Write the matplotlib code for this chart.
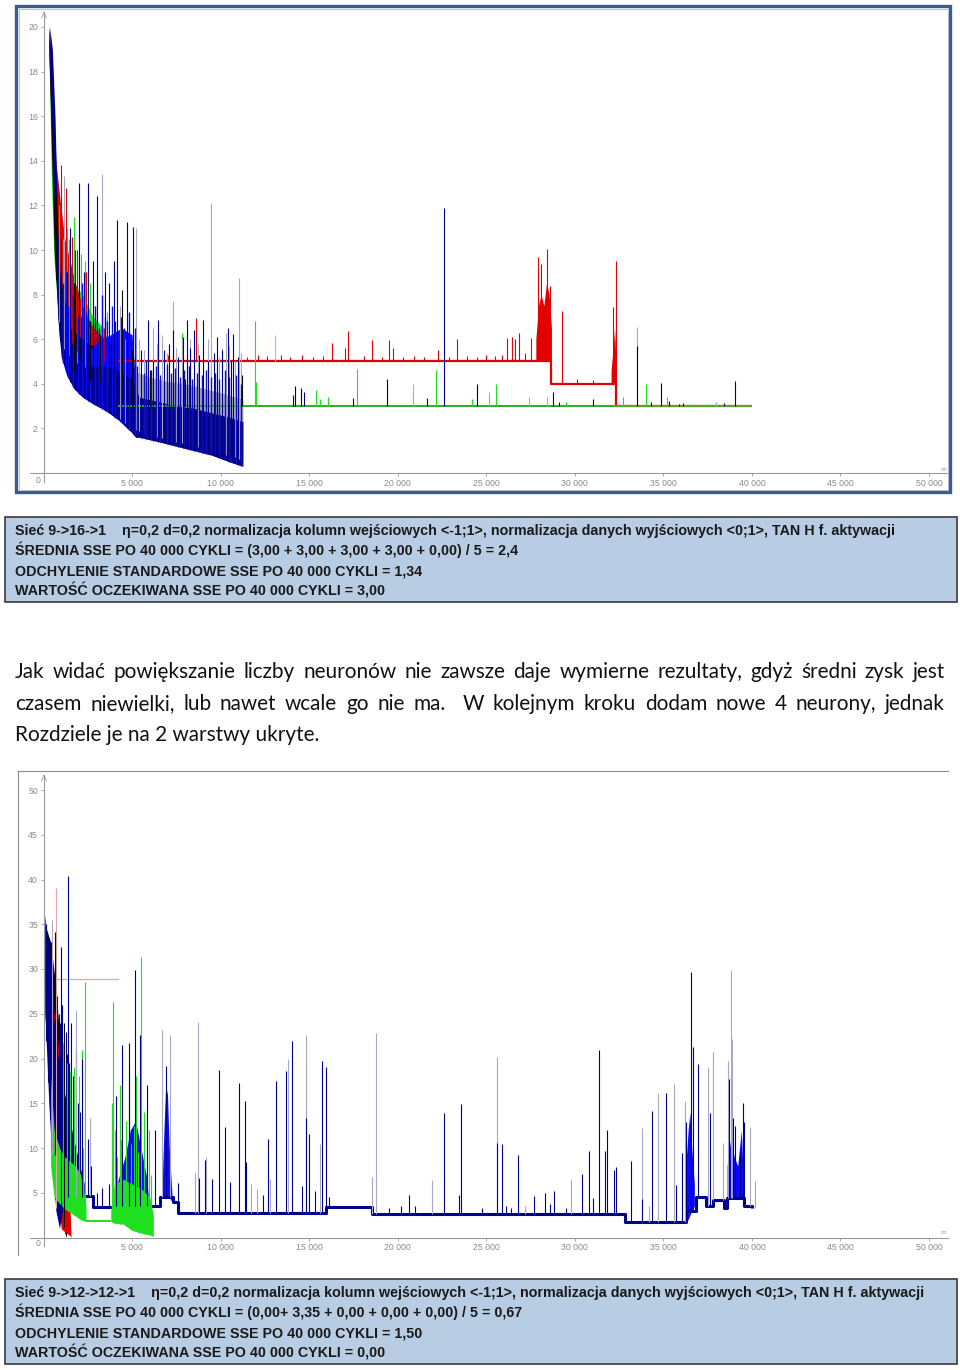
import matplotlib
matplotlib.use("Agg")
import matplotlib.pyplot as plt
from matplotlib.patches import Rectangle
import numpy as np

W, H = 960, 1370
NARROW = ["Liberation Sans Narrow", "Liberation Sans", "DejaVu Sans"]
BODY = ["Lato", "Open Sans", "DejaVu Sans"]
plt.rcParams["font.family"] = NARROW

RED, GREEN, NAVY, BLUE = "#e20000", "#1fe01f", "#00008e", "#0a0aff"
BLACK, GRAY, PINK = "#0a0a0a", "#a8a8c2", "#e6a6a6"
AXIS_GRAY = "#9a9a9a"

x_ticks = [5000, 10000, 15000, 20000, 25000, 30000, 35000, 40000, 45000, 50000]
c1_y_ticks = [2, 4, 6, 8, 10, 12, 14, 16, 18, 20]
c2_y_ticks = [5, 10, 15, 20, 25, 30, 35, 40, 45, 50]

# ---------------- chart 1: 9->16->1 (SSE vs cycles) ----------------
c1_red_band_x = [300, 500, 700, 900, 1200, 1500, 1800, 2200, 2800, 3500, 4200]
c1_red_band_hi = [20.0, 18.0, 14.0, 12.5, 10.5, 9.5, 8.5, 7.5, 6.5, 6.0, 5.3]
c1_red_band_lo = [19.0, 14.0, 10.0, 8.0, 6.5, 6.0, 5.5, 5.3, 5.1, 5.0, 5.0]
c1_red_level_x = [4200, 28680, 32320, 40000]
c1_red_level_y = [5.0, 4.0, 3.0, 3.0]
c1_red_burst_x = [27800, 27950, 28100, 28250, 28400, 28550, 28680]
c1_red_burst_hi = [6.0, 7.5, 8.0, 7.5, 8.5, 8.0, 6.5]
c1_red_burst_lo = [5.0, 5.0, 5.0, 5.0, 5.0, 5.0, 5.0]
c1_red_burst2_x = [32050, 32150, 32250, 32320]
c1_red_burst2_hi = [4.6, 5.5, 6.5, 5.0]
c1_red_burst2_lo = [4.0, 4.0, 4.0, 3.0]
c1_red_spike_x = [6450, 7030, 8610, 11500, 12100, 12600, 13400, 13900, 14600, 15200,
                  15800, 16270, 17030, 17220, 18100, 18560, 19100, 19490, 19750, 20300,
                  20900, 21500, 22300, 22900, 23370, 23900, 24500, 24990, 25500, 25900,
                  26170, 26440, 26630, 26850, 27200, 27540, 27900, 28090, 28420, 28590,
                  29250, 30100, 31000, 32150, 32300, 1000, 1250, 1600, 1900, 2400,
                  2900, 3400]
c1_red_spike_y = [6.26, 5.3, 6.94, 5.2, 5.3, 5.25, 5.3, 5.2, 5.3, 5.2,
                  5.25, 5.84, 5.6, 6.37, 5.25, 5.96, 5.2, 5.95, 5.6, 5.2,
                  5.25, 5.2, 5.5, 5.2, 6.0, 5.25, 5.2, 5.3, 5.25, 5.3,
                  6.05, 6.1, 6.0, 6.3, 5.4, 6.05, 9.67, 9.37, 10.03, 8.4,
                  7.28, 4.2, 4.15, 7.46, 9.5, 13.8, 12.8, 10.6, 10.0, 9.0,
                  7.5, 6.5]
c1_pink_spike_x = [13070]
c1_pink_spike_y = [6.2]

c1_green_band_x = [300, 450, 600, 800, 1000, 1300, 1700, 2200, 2800, 3400, 3900, 4130]
c1_green_band_hi = [20.2, 17.0, 13.0, 10.5, 9.5, 9.5, 8.5, 8.0, 7.0, 6.5, 5.0, 3.2]
c1_green_band_lo = [19.5, 13.0, 9.5, 7.5, 6.0, 5.5, 5.0, 4.8, 4.6, 4.3, 3.6, 3.0]
c1_green_level_x = [4130, 40000]
c1_green_level_y = [3.0, 3.0]
c1_green_spike_x = [1720, 7800, 11940, 12000, 15360, 15600, 16080, 17700, 22160, 24180,
                    25560, 29500, 32710, 34000, 35190, 36500, 37500, 38000, 900, 1100,
                    1300, 1450, 1900, 2100, 2350, 2600, 3000, 3300, 3600]
c1_green_spike_y = [11.5, 6.3, 6.8, 4.1, 3.7, 3.3, 3.4, 4.66, 4.6, 3.3,
                    4.0, 3.2, 3.4, 4.0, 3.4, 3.1, 3.1, 3.2, 12.0, 10.5,
                    11.0, 10.5, 10.0, 9.8, 9.5, 8.5, 8.8, 8.0, 7.2]

c1_black_band_x = [300, 600, 900, 1500, 2500, 3500, 4600]
c1_black_band_hi = [20.0, 14.0, 9.0, 6.5, 5.8, 5.5, 4.5]
c1_black_band_lo = [19.0, 10.0, 6.0, 4.6, 4.2, 4.0, 3.0]
c1_black_level_x = [4600, 40000]
c1_black_level_y = [3.0, 3.0]
c1_black_spike_x = [4450, 5000, 6000, 8000, 11220, 14200, 14540, 19400, 24470, 31000,
                    33500, 34880, 35300, 35900, 36100, 700, 1000, 1300, 1700, 2100,
                    2600, 3200, 3800]
c1_black_spike_y = [8.2, 5.5, 4.6, 4.2, 4.4, 3.9, 3.8, 4.2, 4.0, 3.3,
                    5.7, 4.05, 3.25, 3.1, 3.15, 12.5, 10.5, 9.0, 8.5, 7.0,
                    6.8, 6.2, 5.8]

c1_gray_band_x = [300, 600, 1000, 2000, 3000, 4000, 5000, 6000, 7000, 8000, 9000, 10000, 11260]
c1_gray_band_hi = [20.0, 15.0, 9.0, 6.0, 5.3, 5.0, 4.6, 4.3, 4.1, 4.0, 3.8, 3.6, 3.3]
c1_gray_band_lo = [19.0, 12.0, 6.0, 3.6, 3.1, 2.6, 2.0, 1.7, 1.5, 1.3, 1.1, 0.9, 0.6]
c1_gray_level_x = [11260, 40000]
c1_gray_level_y = [3.0, 3.0]
c1_gray_spike_x = [1180, 3280, 4300, 5220, 6200, 7300, 8300, 9440, 10300, 11050,
                   20880, 25180, 27440, 28440, 33500, 38000, 4600, 5400, 5700, 6400,
                   6700, 7000, 7500, 7800, 8100, 8700, 9000, 9300, 9900, 10100,
                   10500, 10800, 11150]
c1_gray_spike_y = [13.3, 13.4, 7.5, 11.0, 6.5, 7.7, 6.0, 12.1, 6.3, 8.73,
                   4.0, 3.65, 3.4, 3.4, 6.56, 3.2, 6.0, 6.0, 5.5, 5.8,
                   6.2, 5.4, 5.6, 6.0, 5.3, 5.8, 5.5, 6.0, 5.2, 5.6,
                   5.7, 5.0, 5.4]

c1_blue_band_x = [350, 500, 650, 800, 1000, 1300, 1700, 2200, 2800, 3500,
                  4200, 5000, 5200, 5400, 6500, 7500, 8500, 9500, 10500, 11260]
c1_blue_band_hi = [20.0, 19.0, 16.0, 11.0, 8.0, 6.5, 5.5, 5.0, 4.8, 4.8,
                   4.6, 4.2, 3.8, 3.4, 3.2, 3.0, 2.9, 2.7, 2.5, 2.3]
c1_blue_band_lo = [18.0, 15.0, 11.0, 7.0, 5.2, 4.4, 3.8, 3.4, 3.1, 2.8,
                   2.4, 1.8, 1.6, 1.6, 1.4, 1.2, 1.0, 0.8, 0.5, 0.3]
c1_blue_bright_x = [2600, 3200, 3800, 4400, 5000, 5200]
c1_blue_bright_hi = [5.5, 6.0, 6.2, 6.5, 6.2, 4.0]
c1_blue_bright_lo = [4.4, 4.2, 4.0, 3.8, 3.5, 3.5]
c1_blue_level_x = [11260, 40000]
c1_blue_level_y = [3.0, 3.0]
c1_blue_spike_x = [1500, 1800, 2025, 2300, 2530, 2800, 3000, 3500, 3700, 4000,
                   4130, 4700, 5070, 5500, 5920, 6200, 6480, 6800, 7100, 7330,
                   7600, 7860, 8080, 8300, 8520, 8800, 9025, 9300, 9600, 9780,
                   10100, 10400, 10600, 10720, 11000, 14090, 14720, 17460, 21660, 22630,
                   28780, 29090, 34330, 38420, 39040]
c1_blue_spike_y = [11.0, 10.0, 12.99, 9.0, 13.0, 9.5, 12.4, 9.0, 8.5, 9.5,
                   11.35, 11.27, 11.05, 5.5, 6.84, 5.0, 6.85, 5.5, 5.8, 6.4,
                   5.2, 6.1, 6.86, 5.6, 6.4, 5.3, 6.86, 5.0, 5.4, 6.1,
                   5.5, 6.5, 5.0, 6.25, 5.2, 3.5, 3.65, 3.35, 3.35, 11.87,
                   3.65, 3.2, 3.2, 3.15, 4.14]
c1_blue_fine_x = [1100, 1250, 1400, 1650, 1950, 2150, 2400, 2650, 2900, 3150,
                  3300, 3450, 3600, 3850, 4050, 4350, 4550, 4850, 5150, 5300,
                  5650, 5800, 6050, 6350, 6600, 6950, 7200, 7450, 7700, 7950,
                  8200, 8400, 8650, 8950, 9150, 9450, 9700, 9900, 10250, 10500,
                  10850, 11150]
c1_blue_fine_y = [8.5, 9.0, 7.5, 8.0, 7.0, 8.5, 7.2, 6.8, 7.5, 6.5,
                  8.0, 7.0, 6.8, 7.5, 6.8, 7.0, 6.5, 7.2, 6.5, 4.8,
                  4.5, 5.0, 4.6, 4.8, 4.4, 4.9, 4.5, 4.7, 4.3, 4.6,
                  4.8, 4.2, 4.5, 4.4, 4.6, 4.3, 4.5, 4.2, 4.6, 4.3,
                  4.4, 4.0]

# ---------------- chart 2: 9->12->12->1 ----------------
c2_blue_band_x = [85, 300, 500, 700, 900, 1100, 1300, 1500, 1700, 2000, 2300]
c2_blue_band_hi = [36.0, 30.0, 26.0, 22.0, 19.0, 17.0, 15.0, 13.0, 11.0, 8.5, 6.0]
c2_blue_band_lo = [25.0, 15.0, 8.0, 3.0, 1.0, 3.5, 4.5, 4.5, 4.5, 4.5, 4.6]
c2_blue_level_x = [2300, 2800, 4000, 6600, 7300, 7600, 15970, 18550, 32860,
                   36300, 36850, 37420, 37780, 38420, 38600, 39540, 40000]
c2_blue_level_y = [4.6, 3.4, 3.5, 4.5, 4.0, 2.7, 3.37, 2.62, 1.77,
                   3.0, 4.55, 3.5, 4.2, 3.3, 4.4, 3.5, 3.35]
c2_burst_a_x = [4000, 4300, 4600, 4900, 5200, 5500, 5800, 5950]
c2_burst_a_hi = [5.0, 7.0, 9.0, 12.0, 13.0, 10.0, 7.0, 4.0]
c2_burst_a_lo = [3.5, 3.5, 3.5, 3.5, 3.5, 3.5, 3.5, 3.5]
c2_burst_b_x = [6700, 6800, 6900, 7000, 7100, 7250]
c2_burst_b_hi = [6.0, 12.0, 17.0, 16.0, 10.0, 5.0]
c2_burst_b_lo = [4.5, 4.5, 4.5, 4.5, 4.5, 4.0]
c2_burst_c_x = [36200, 36300, 36400, 36500, 36600, 36750]
c2_burst_c_hi = [5.0, 9.0, 12.0, 14.0, 10.0, 6.0]
c2_burst_c_lo = [1.8, 1.8, 2.0, 2.5, 3.0, 3.5]
c2_burst_d_x = [38600, 38800, 39000, 39200, 39400, 39540]
c2_burst_d_hi = [8.0, 11.0, 9.0, 8.0, 12.0, 6.0]
c2_burst_d_lo = [4.4, 4.4, 4.4, 4.4, 4.4, 4.0]
c2_blue_spike_x = [990, 1400, 2200, 2500, 2700, 3000, 3300, 3700, 4070, 4450,
                   4800, 5170, 5450, 5830, 6300, 6900, 7620, 8780, 9120, 9500,
                   9910, 10250, 10530, 11060, 11380, 11430, 12400, 12690, 13110, 13700,
                   14020, 14580, 14840, 15010, 15330, 15750, 15950, 16110, 19530, 20180,
                   20610, 20970, 22600, 23440, 23590, 24740, 25600, 25890, 26130, 26420,
                   26780, 27720, 28290, 28580, 28840, 29490, 30380, 30810, 31020, 31380,
                   31690, 31790, 32200, 32300, 33160, 33810, 34370, 35170, 35720, 36030,
                   36270, 36570, 36650, 36980, 37640, 38700, 38930, 39050, 39310, 39510,
                   39560]
c2_blue_spike_y = [32.5, 40.4, 20.0, 11.0, 8.0, 5.0, 5.5, 6.0, 15.8, 21.5,
                   21.7, 29.9, 22.6, 17.0, 12.0, 19.2, 6.1, 6.6, 8.7, 6.5,
                   18.7, 12.4, 6.2, 17.3, 15.3, 8.4, 4.7, 11.0, 17.5, 18.6,
                   21.9, 5.8, 13.3, 11.6, 5.2, 19.7, 19.1, 4.5, 3.3, 3.5,
                   4.8, 3.5, 13.9, 4.8, 14.9, 3.3, 10.6, 10.4, 3.5, 3.3,
                   9.2, 4.6, 5.0, 3.7, 5.2, 3.3, 7.1, 9.7, 4.4, 21.0,
                   9.7, 12.0, 7.5, 7.9, 8.5, 4.3, 14.1, 16.2, 5.9, 9.4,
                   12.9, 29.7, 21.3, 19.4, 13.9, 17.7, 13.3, 12.5, 9.5, 15.0,
                   12.9]
c2_blue_early_x = [150, 250, 350, 450, 550, 650, 750, 850, 950, 1050,
                   1150, 1250, 1350, 1450, 1550, 1650, 1750, 1850, 1950, 2050]
c2_blue_early_y = [35.0, 33.5, 31.0, 33.0, 28.0, 26.5, 27.0, 25.0, 24.0, 26.0,
                   22.0, 23.0, 20.5, 19.5, 24.0, 18.0, 17.5, 21.0, 15.0, 14.0]
c2_gray_spike_x = [460, 1835, 2650, 4800, 6670, 7140, 8560, 8740, 9200, 11700,
                   12030, 12800, 13800, 14840, 15610, 18560, 18760, 21930, 25600, 27160,
                   29800, 33810, 34200, 34710, 35600, 36200, 37510, 37830, 38360, 38650,
                   38810, 38860, 39890, 40200]
c2_gray_spike_y = [35.5, 25.4, 13.3, 19.25, 23.2, 22.6, 7.2, 24.1, 9.0, 6.0,
                   5.4, 6.5, 20.0, 22.6, 10.5, 6.8, 22.9, 6.4, 20.2, 3.5,
                   6.5, 12.2, 3.5, 16.1, 17.1, 15.3, 19.0, 20.7, 10.6, 19.7,
                   29.85, 22.2, 12.4, 6.3]
c2_pink_line_x = [745, 4225]
c2_pink_line_y = [28.9, 28.9]
c2_pink_spike_x = [690]
c2_pink_spike_y = [39.0]

c2_red_band_x = [85, 300, 500, 700, 900, 1000, 1100, 1300, 1500, 1550]
c2_red_band_hi = [36.0, 30.0, 26.0, 24.0, 20.0, 10.0, 6.0, 4.5, 3.0, 0.5]
c2_red_band_lo = [28.0, 20.0, 15.0, 10.0, 3.0, 1.0, 0.8, 0.5, 0.2, 0.0]

c2_black_band_x = [85, 400, 700, 1000, 1200, 1300]
c2_black_band_hi = [35.0, 33.0, 28.0, 20.0, 10.0, 1.0]
c2_black_band_lo = [25.0, 15.0, 8.0, 3.0, 0.5, 0.0]
c2_black_spike_x = [650, 1150]
c2_black_spike_y = [34.1, 24.0]

c2_green_band_a_x = [400, 600, 900, 1200, 1500, 1800, 2100, 2400]
c2_green_band_a_hi = [18.0, 12.0, 10.0, 9.0, 8.5, 8.0, 7.0, 3.5]
c2_green_band_a_lo = [8.0, 4.5, 3.8, 3.2, 2.8, 2.4, 2.0, 1.8]
c2_green_level_x = [2400, 3800]
c2_green_level_y = [1.8, 1.8]
c2_green_band_b_x = [3800, 4000, 4500, 5000, 5500, 6000, 6200]
c2_green_band_b_hi = [3.0, 6.0, 6.5, 6.0, 5.5, 4.5, 2.5]
c2_green_band_b_lo = [1.8, 1.6, 1.5, 0.8, 0.5, 0.3, 0.1]
c2_green_spike_x = [1120, 1300, 1500, 1700, 2000, 2150, 2370, 3940, 4300, 4800,
                    5200, 5500, 5700, 5950, 2250, 3850, 4050, 4150, 4400, 4650,
                    4950, 5100, 5350, 5650, 5850, 6050]
c2_green_spike_y = [21.7, 19.5, 18.5, 19.0, 18.0, 21.0, 28.5, 26.3, 17.0, 16.0,
                    18.0, 31.3, 14.0, 12.0, 10.0, 15.0, 12.0, 9.0, 11.0, 13.0,
                    10.5, 12.5, 9.5, 11.0, 8.0, 7.0]

# ---------------- texts ----------------
box1_lines = [
    "Sieć 9->16->1    η=0,2 d=0,2 normalizacja kolumn wejściowych <-1;1>, normalizacja danych wyjściowych <0;1>, TAN H f. aktywacji",
    "ŚREDNIA SSE PO 40 000 CYKLI = (3,00 + 3,00 + 3,00 + 3,00 + 0,00) / 5 = 2,4",
    "ODCHYLENIE STANDARDOWE SSE PO 40 000 CYKLI = 1,34",
    "WARTOŚĆ OCZEKIWANA SSE PO 40 000 CYKLI = 3,00",
]
box2_lines = [
    "Sieć 9->12->12->1    η=0,2 d=0,2 normalizacja kolumn wejściowych <-1;1>, normalizacja danych wyjściowych <0;1>, TAN H f. aktywacji",
    "ŚREDNIA SSE PO 40 000 CYKLI = (0,00+ 3,35 + 0,00 + 0,00 + 0,00) / 5 = 0,67",
    "ODCHYLENIE STANDARDOWE SSE PO 40 000 CYKLI = 1,50",
    "WARTOŚĆ OCZEKIWANA SSE PO 40 000 CYKLI = 0,00",
]
paragraph = [
    "Jak widać powiększanie liczby neuronów nie zawsze daje wymierne rezultaty, gdyż średni zysk jest",
    "czasem niewielki, lub nawet wcale go nie ma.  W kolejnym kroku dodam nowe 4 neurony, jednak",
    "Rozdziele je na 2 warstwy ukryte.",
]


def floor_at(x, pieces):
    """Value of a run's floor at x; pieces are (xs, ys, step?) in order."""
    for xs, ys, step in pieces:
        if xs[0] <= x <= xs[-1]:
            if step:
                i = int(np.searchsorted(xs, x, side="right")) - 1
                return ys[min(max(i, 0), len(ys) - 1)]
            return float(np.interp(x, xs, ys))
    return pieces[-1][1][-1]


def spikes(ax, xs, tops, pieces, color, lw=0.8, z=3):
    bases = [floor_at(x, pieces) for x in xs]
    ax.vlines(xs, bases, tops, colors=color, lw=lw, zorder=z)


def band(ax, xs, lo, hi, color, z=2):
    ax.fill_between(xs, lo, hi, color=color, lw=0, zorder=z)


def level(ax, xs, ys, color, lw=1.2, z=2.5):
    ax.plot(xs, ys, drawstyle="steps-post", color=color, lw=lw, zorder=z,
            solid_capstyle="butt")


fig = plt.figure(figsize=(W / 100, H / 100), dpi=100)
page = fig.add_axes([0, 0, 1, 1])
page.set_xlim(0, W)
page.set_ylim(H, 0)
page.axis("off")


def chart_axes(top, bottom, y0_px, yref, yref_px, yticks):
    left, right = 30, 948
    sx = (929 - 43.5) / 50000
    sy = (y0_px - yref_px) / yref
    ax = fig.add_axes([left / W, 1 - bottom / H, (right - left) / W, (bottom - top) / H])
    ax.set_facecolor("none")
    ax.set_xlim((left - 43.5) / sx, (right - 43.5) / sx)
    ax.set_ylim(-(bottom - y0_px) / sy, (y0_px - top) / sy)
    for s in ("top", "right"):
        ax.spines[s].set_visible(False)
    for s in ("left", "bottom"):
        ax.spines[s].set_position(("data", 0))
        ax.spines[s].set_color(AXIS_GRAY)
        ax.spines[s].set_linewidth(0.8)
        ax.spines[s].set_zorder(1)
    ax.set_xticks(x_ticks)
    ax.set_xticklabels([f"{v // 1000} 000" for v in x_ticks])
    ax.set_yticks(yticks)
    ax.set_yticklabels([str(v) for v in yticks])
    ax.tick_params(axis="both", colors=AXIS_GRAY, labelcolor="#8a8a8a", labelsize=6.3,
                   length=2.5, width=0.6, pad=1.5)
    return ax


# ---------------- chart 1 ----------------
page.add_patch(Rectangle((16, 6), 934, 486, fill=False, ec="#3e5c88", lw=2.4))
page.add_patch(Rectangle((18.5, 8.5), 929, 481, fill=False, ec="#b4c0d2", lw=0.7))
ax1 = chart_axes(12, 482, 473, 20, 27, c1_y_ticks)

red1 = [(c1_red_band_x, c1_red_band_lo, False), (c1_red_level_x, c1_red_level_y, True)]
green1 = [(c1_green_band_x, c1_green_band_lo, False), (c1_green_level_x, c1_green_level_y, True)]
black1 = [(c1_black_band_x, c1_black_band_lo, False), (c1_black_level_x, c1_black_level_y, True)]
gray1 = [(c1_gray_band_x, c1_gray_band_lo, False), (c1_gray_level_x, c1_gray_level_y, True)]
blue1 = [(c1_blue_band_x, c1_blue_band_lo, False), (c1_blue_level_x, c1_blue_level_y, True)]

band(ax1, c1_gray_band_x, c1_gray_band_lo, c1_gray_band_hi, GRAY)
band(ax1, c1_green_band_x, c1_green_band_lo, c1_green_band_hi, GREEN)
band(ax1, c1_red_band_x, c1_red_band_lo, c1_red_band_hi, RED)
band(ax1, c1_black_band_x, c1_black_band_lo, c1_black_band_hi, BLACK)
band(ax1, c1_blue_bright_x, c1_blue_bright_lo, c1_blue_bright_hi, BLUE)
band(ax1, c1_blue_band_x, c1_blue_band_lo, c1_blue_band_hi, NAVY)
band(ax1, c1_red_burst_x, c1_red_burst_lo, c1_red_burst_hi, RED)
band(ax1, c1_red_burst2_x, c1_red_burst2_lo, c1_red_burst2_hi, RED)

level(ax1, c1_blue_level_x, c1_blue_level_y, NAVY)
level(ax1, c1_gray_level_x, c1_gray_level_y, GRAY)
level(ax1, c1_black_level_x, c1_black_level_y, BLACK)
level(ax1, c1_red_level_x, c1_red_level_y, RED, lw=1.6)
level(ax1, c1_green_level_x, c1_green_level_y, "#33cc33", lw=1.2)

spikes(ax1, c1_gray_spike_x, c1_gray_spike_y, gray1, GRAY)
spikes(ax1, c1_green_spike_x, c1_green_spike_y, green1, GREEN, z=2.8)
spikes(ax1, c1_red_spike_x, c1_red_spike_y, red1, RED, z=2.9)
spikes(ax1, c1_pink_spike_x, c1_pink_spike_y, red1, PINK)
fine_colors = [BLUE if x < 5300 else "#1010b8" for x in c1_blue_fine_x]
spikes(ax1, c1_blue_fine_x, c1_blue_fine_y, blue1, fine_colors, lw=1.0)
spikes(ax1, c1_blue_spike_x, c1_blue_spike_y, blue1, NAVY)
spikes(ax1, c1_black_spike_x, c1_black_spike_y, black1, BLACK)

# ---------------- chart 2 ----------------
page.plot([18, 948], [771, 771], color="#8c8c8c", lw=0.8)
page.plot([18, 18], [771, 1255], color="#8c8c8c", lw=0.8)
ax2 = chart_axes(775, 1246, 1237.5, 50, 790, c2_y_ticks)

blue2 = [(c2_blue_band_x, c2_blue_band_lo, False), (c2_blue_level_x, c2_blue_level_y, True)]
black2 = [(c2_black_band_x, c2_black_band_lo, False)]
green2 = [(c2_green_band_a_x, c2_green_band_a_lo, False),
          (c2_green_level_x, c2_green_level_y, True),
          (c2_green_band_b_x, c2_green_band_b_lo, False)]

ax2.plot(c2_pink_line_x, c2_pink_line_y, color=PINK, lw=0.9, zorder=1.5)
band(ax2, c2_black_band_x, c2_black_band_lo, c2_black_band_hi, BLACK)
band(ax2, c2_red_band_x, c2_red_band_lo, c2_red_band_hi, RED)
band(ax2, c2_blue_band_x, c2_blue_band_lo, c2_blue_band_hi, NAVY)
for bx, blo, bhi in [(c2_burst_a_x, c2_burst_a_lo, c2_burst_a_hi),
                     (c2_burst_b_x, c2_burst_b_lo, c2_burst_b_hi),
                     (c2_burst_c_x, c2_burst_c_lo, c2_burst_c_hi),
                     (c2_burst_d_x, c2_burst_d_lo, c2_burst_d_hi)]:
    band(ax2, bx, blo, bhi, BLUE)
spikes(ax2, c2_blue_early_x, c2_blue_early_y, blue2, NAVY, z=2.2)
band(ax2, c2_green_band_a_x, c2_green_band_a_lo, c2_green_band_a_hi, GREEN, z=2.6)
band(ax2, c2_green_band_b_x, c2_green_band_b_lo, c2_green_band_b_hi, GREEN, z=2.6)
level(ax2, c2_green_level_x, c2_green_level_y, GREEN, lw=1.4, z=2.6)
level(ax2, c2_blue_level_x, c2_blue_level_y, NAVY, lw=2.2)

spikes(ax2, c2_gray_spike_x, c2_gray_spike_y, blue2, GRAY)
spikes(ax2, c2_pink_spike_x, c2_pink_spike_y, blue2, PINK)
spikes(ax2, c2_green_spike_x, c2_green_spike_y, green2, GREEN, z=2.7)
spikes(ax2, c2_blue_spike_x, c2_blue_spike_y, blue2, NAVY)
spikes(ax2, c2_black_spike_x, c2_black_spike_y, black2, BLACK)

# axis decorations: origin label, arrow tip, unit stub
for y_axis, y_top in ((480, 12), (1243, 775)):
    page.text(38, y_axis, "0", fontsize=6.3, color="#8a8a8a", ha="center", va="center")
    page.plot([41.5, 44, 46.5], [y_top + 6, y_top, y_top + 6], color=AXIS_GRAY, lw=0.6)
    page.text(944, y_axis - 11, "cm", fontsize=3.5, color=AXIS_GRAY, ha="center", va="center")

# ---------------- info boxes ----------------
renderer = fig.canvas.get_renderer()


def fitted_size(text, width, family, weight="normal", probe=10.0):
    t = page.text(0, 0, text, fontsize=probe, family=family, fontweight=weight)
    w = t.get_window_extent(renderer).width
    t.remove()
    return probe * width / w


box_fs = fitted_size(box1_lines[0], 878, NARROW, "bold")
for top, lines in ((517, box1_lines), (1279, box2_lines)):
    page.add_patch(Rectangle((5, top), 952, 85, fc="#b8cce4", ec="#3a3a3a", lw=1.2))
    for i, line in enumerate(lines):
        page.text(15, top + 18 + 20 * i, line, fontsize=box_fs, family=NARROW,
                  fontweight="bold", color="#1a1a1a", va="baseline", ha="left")

# ---------------- justified paragraph ----------------
para_fs = fitted_size(paragraph[2], 305, BODY)


def justify(text, y, x0, x1):
    words = text.split(" ")
    items = [page.text(0, y, w, fontsize=para_fs, family=BODY, color="#111111",
                       va="baseline", ha="left") for w in words]
    widths = [t.get_window_extent(renderer).width if w else 0.0 for t, w in zip(items, words)]
    gap = (x1 - x0 - sum(widths)) / (len(words) - 1)
    x = x0
    for t, w in zip(items, widths):
        t.set_x(x)
        x += w + gap


justify(paragraph[0], 678, 15, 945)
justify(paragraph[1], 710, 15, 945)
page.text(15, 741, paragraph[2], fontsize=para_fs, family=BODY, color="#111111",
          va="baseline", ha="left")

fig.savefig("out.png", dpi=100)
